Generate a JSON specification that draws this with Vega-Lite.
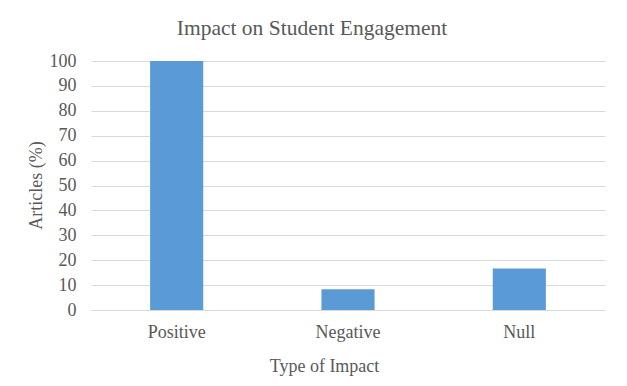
{
  "$schema": "https://vega.github.io/schema/vega-lite/v6.json",
  "autosize": "none",
  "width": 514,
  "height": 249,
  "padding": {"left": 91, "top": 61, "right": 22, "bottom": 76},
  "background": "white",
  "title": {
    "text": "Impact on Student Engagement",
    "font": "Liberation Serif",
    "fontSize": 21.5,
    "fontWeight": "normal",
    "color": "#595959",
    "anchor": "middle",
    "dx": -36,
    "offset": 13
  },
  "data": {
    "values": [
      {"impact": "Positive", "articles": 100},
      {"impact": "Negative", "articles": 8.3},
      {"impact": "Null", "articles": 16.7}
    ]
  },
  "mark": {"type": "bar", "color": "#5b9bd5"},
  "encoding": {
    "x": {
      "field": "impact",
      "type": "nominal",
      "sort": null,
      "scale": {"paddingInner": 0.69, "paddingOuter": 0.345},
      "axis": {
        "title": "Type of Impact",
        "labelAngle": 0,
        "labelFont": "Liberation Serif",
        "labelFontSize": 18,
        "labelColor": "#595959",
        "labelPadding": 13,
        "ticks": false,
        "domainColor": "#d9d9d9",
        "titleFont": "Liberation Serif",
        "titleFontSize": 18,
        "titleFontWeight": "normal",
        "titleColor": "#595959",
        "titleX": 233,
        "titleY": 61,
        "titleBaseline": "alphabetic"
      }
    },
    "y": {
      "field": "articles",
      "type": "quantitative",
      "scale": {"domain": [0, 100]},
      "axis": {
        "title": "Articles (%)",
        "values": [0, 10, 20, 30, 40, 50, 60, 70, 80, 90, 100],
        "labelFont": "Liberation Serif",
        "labelFontSize": 18,
        "labelColor": "#595959",
        "labelPadding": 15,
        "ticks": false,
        "domain": false,
        "gridColor": "#d9d9d9",
        "titleFont": "Liberation Serif",
        "titleFontSize": 18,
        "titleFontWeight": "normal",
        "titleColor": "#595959",
        "titleAngle": -90,
        "titleX": -50,
        "titleY": 124,
        "titleAlign": "center",
        "titleBaseline": "alphabetic"
      }
    }
  },
  "config": {"view": {"stroke": null}}
}
